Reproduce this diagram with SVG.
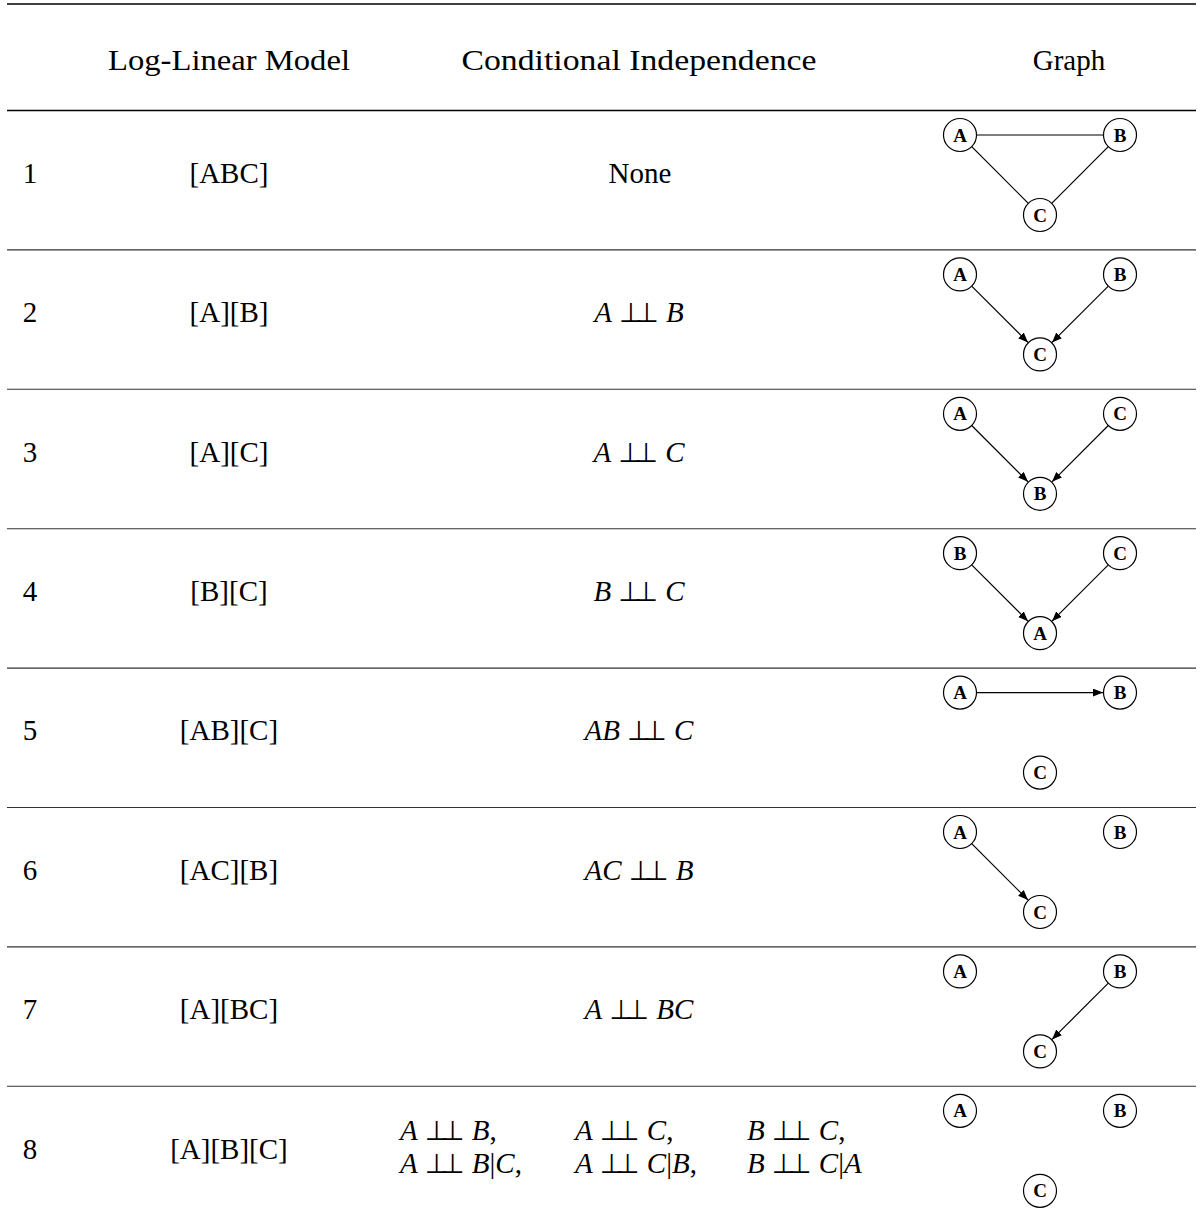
<svg xmlns="http://www.w3.org/2000/svg" width="1203" height="1220" viewBox="0 0 1203 1220">
<style>
text{font-family:"Liberation Serif","Times New Roman",serif;fill:#000}
.t{font-size:29px}
.c{text-anchor:middle}
.i{font-style:italic}
.s{font-family:"DejaVu Sans","DejaVu Serif",sans-serif;font-size:27px}
.rule{stroke:#000;stroke-width:1.3}
.sep{stroke:#333;stroke-width:1.1}
.nd circle{fill:#fff;stroke:#000;stroke-width:1.2}
.nd text{font-size:19px;font-weight:bold;text-anchor:middle}
.e{stroke:#000;stroke-width:1.2;fill:none}
.a{marker-end:url(#ah)}
</style>
<defs>
<marker id="ah" markerUnits="userSpaceOnUse" markerWidth="11" markerHeight="9" refX="10" refY="4" orient="auto">
<path d="M0,0 L10,4 L0,8 z" fill="#000"/>
</marker>
</defs>
<rect width="1203" height="1220" fill="#fff"/>
<g id="rules">
<line class="rule" x1="7" y1="4" x2="1196" y2="4"/>
<line class="rule" x1="7" y1="110.5" x2="1196" y2="110.5"/>
<line class="sep" x1="7" y1="249.9" x2="1196" y2="249.9"/>
<line class="sep" x1="7" y1="389.3" x2="1196" y2="389.3"/>
<line class="sep" x1="7" y1="528.7" x2="1196" y2="528.7"/>
<line class="sep" x1="7" y1="668.1" x2="1196" y2="668.1"/>
<line class="sep" x1="7" y1="807.5" x2="1196" y2="807.5"/>
<line class="sep" x1="7" y1="946.9" x2="1196" y2="946.9"/>
<line class="sep" x1="7" y1="1086.3" x2="1196" y2="1086.3"/>
</g>
<g id="header">
<text class="t c" x="229" y="70" textLength="242" lengthAdjust="spacingAndGlyphs">Log-Linear Model</text>
<text class="t c" x="639" y="70" textLength="355" lengthAdjust="spacingAndGlyphs">Conditional Independence</text>
<text class="t c" x="1069" y="70">Graph</text>
</g>
<g id="col-index">
<text class="t c" x="30" y="182.7">1</text>
<text class="t c" x="30" y="322.1">2</text>
<text class="t c" x="30" y="461.5">3</text>
<text class="t c" x="30" y="600.9">4</text>
<text class="t c" x="30" y="740.3">5</text>
<text class="t c" x="30" y="879.7">6</text>
<text class="t c" x="30" y="1019.1">7</text>
<text class="t c" x="30" y="1158.5">8</text>
</g>
<g id="col-model">
<text class="t c" x="229" y="182.7">[ABC]</text>
<text class="t c" x="229" y="322.1">[A][B]</text>
<text class="t c" x="229" y="461.5">[A][C]</text>
<text class="t c" x="229" y="600.9">[B][C]</text>
<text class="t c" x="229" y="740.3">[AB][C]</text>
<text class="t c" x="229" y="879.7">[AC][B]</text>
<text class="t c" x="229" y="1019.1">[A][BC]</text>
<text class="t c" x="229" y="1158.5">[A][B][C]</text>
</g>
<g id="col-ci">
<text class="t c" x="640" y="182.7">None</text>
<text class="t c" x="639" y="322.1"><tspan class="i">A</tspan> <tspan class="s">⊥<tspan dx="-7.5">⊥</tspan></tspan> <tspan class="i">B</tspan></text>
<text class="t c" x="639" y="461.5"><tspan class="i">A</tspan> <tspan class="s">⊥<tspan dx="-7.5">⊥</tspan></tspan> <tspan class="i">C</tspan></text>
<text class="t c" x="639" y="600.9"><tspan class="i">B</tspan> <tspan class="s">⊥<tspan dx="-7.5">⊥</tspan></tspan> <tspan class="i">C</tspan></text>
<text class="t c" x="639" y="740.3"><tspan class="i">AB</tspan> <tspan class="s">⊥<tspan dx="-7.5">⊥</tspan></tspan> <tspan class="i">C</tspan></text>
<text class="t c" x="639" y="879.7"><tspan class="i">AC</tspan> <tspan class="s">⊥<tspan dx="-7.5">⊥</tspan></tspan> <tspan class="i">B</tspan></text>
<text class="t c" x="639" y="1019.1"><tspan class="i">A</tspan> <tspan class="s">⊥<tspan dx="-7.5">⊥</tspan></tspan> <tspan class="i">BC</tspan></text>
<text class="t" x="400" y="1140"><tspan class="i">A</tspan> <tspan class="s">⊥<tspan dx="-7.5">⊥</tspan></tspan> <tspan class="i">B</tspan>,</text>
<text class="t" x="575" y="1140"><tspan class="i">A</tspan> <tspan class="s">⊥<tspan dx="-7.5">⊥</tspan></tspan> <tspan class="i">C</tspan>,</text>
<text class="t" x="747" y="1140"><tspan class="i">B</tspan> <tspan class="s">⊥<tspan dx="-7.5">⊥</tspan></tspan> <tspan class="i">C</tspan>,</text>
<text class="t" x="400" y="1173"><tspan class="i">A</tspan> <tspan class="s">⊥<tspan dx="-7.5">⊥</tspan></tspan> <tspan class="i">B</tspan>|<tspan class="i">C</tspan>,</text>
<text class="t" x="575" y="1173"><tspan class="i">A</tspan> <tspan class="s">⊥<tspan dx="-7.5">⊥</tspan></tspan> <tspan class="i">C</tspan>|<tspan class="i">B</tspan>,</text>
<text class="t" x="747" y="1173"><tspan class="i">B</tspan> <tspan class="s">⊥<tspan dx="-7.5">⊥</tspan></tspan> <tspan class="i">C</tspan>|<tspan class="i">A</tspan></text>
</g>
<g id="connectors">
<path class="e" d="M976.5,135 L1103.5,135"/>
<path class="e" d="M971.7,146.7 L1028.3,203.3"/>
<path class="e" d="M1108.3,146.7 L1051.7,203.3"/>
<path class="e a" d="M971.7,286.1 L1028,342.4"/>
<path class="e a" d="M1108.3,286.1 L1052,342.4"/>
<path class="e a" d="M971.7,425.5 L1028,481.8"/>
<path class="e a" d="M1108.3,425.5 L1052,481.8"/>
<path class="e a" d="M971.7,564.9 L1028,621.2"/>
<path class="e a" d="M1108.3,564.9 L1052,621.2"/>
<path class="e a" d="M976.5,692.6 L1103,692.6"/>
<path class="e a" d="M971.7,843.7 L1028,900"/>
<path class="e a" d="M1108.3,983.1 L1052,1039.4"/>
</g>
<g id="r1-A" class="nd"><circle cx="960" cy="135" r="16.5"/><text x="960" y="141.5">A</text></g>
<g id="r1-B" class="nd"><circle cx="1120" cy="135" r="16.5"/><text x="1120" y="141.5">B</text></g>
<g id="r1-C" class="nd"><circle cx="1040" cy="215" r="16.5"/><text x="1040" y="221.5">C</text></g>
<g id="r2-A" class="nd"><circle cx="960" cy="274.4" r="16.5"/><text x="960" y="280.9">A</text></g>
<g id="r2-B" class="nd"><circle cx="1120" cy="274.4" r="16.5"/><text x="1120" y="280.9">B</text></g>
<g id="r2-C" class="nd"><circle cx="1040" cy="354.4" r="16.5"/><text x="1040" y="360.9">C</text></g>
<g id="r3-A" class="nd"><circle cx="960" cy="413.8" r="16.5"/><text x="960" y="420.3">A</text></g>
<g id="r3-C" class="nd"><circle cx="1120" cy="413.8" r="16.5"/><text x="1120" y="420.3">C</text></g>
<g id="r3-B" class="nd"><circle cx="1040" cy="493.8" r="16.5"/><text x="1040" y="500.3">B</text></g>
<g id="r4-B" class="nd"><circle cx="960" cy="553.2" r="16.5"/><text x="960" y="559.7">B</text></g>
<g id="r4-C" class="nd"><circle cx="1120" cy="553.2" r="16.5"/><text x="1120" y="559.7">C</text></g>
<g id="r4-A" class="nd"><circle cx="1040" cy="633.2" r="16.5"/><text x="1040" y="639.7">A</text></g>
<g id="r5-A" class="nd"><circle cx="960" cy="692.6" r="16.5"/><text x="960" y="699.1">A</text></g>
<g id="r5-B" class="nd"><circle cx="1120" cy="692.6" r="16.5"/><text x="1120" y="699.1">B</text></g>
<g id="r5-C" class="nd"><circle cx="1040" cy="772.6" r="16.5"/><text x="1040" y="779.1">C</text></g>
<g id="r6-A" class="nd"><circle cx="960" cy="832" r="16.5"/><text x="960" y="838.5">A</text></g>
<g id="r6-B" class="nd"><circle cx="1120" cy="832" r="16.5"/><text x="1120" y="838.5">B</text></g>
<g id="r6-C" class="nd"><circle cx="1040" cy="912" r="16.5"/><text x="1040" y="918.5">C</text></g>
<g id="r7-A" class="nd"><circle cx="960" cy="971.4" r="16.5"/><text x="960" y="977.9">A</text></g>
<g id="r7-B" class="nd"><circle cx="1120" cy="971.4" r="16.5"/><text x="1120" y="977.9">B</text></g>
<g id="r7-C" class="nd"><circle cx="1040" cy="1051.4" r="16.5"/><text x="1040" y="1057.9">C</text></g>
<g id="r8-A" class="nd"><circle cx="960" cy="1110.8" r="16.5"/><text x="960" y="1117.3">A</text></g>
<g id="r8-B" class="nd"><circle cx="1120" cy="1110.8" r="16.5"/><text x="1120" y="1117.3">B</text></g>
<g id="r8-C" class="nd"><circle cx="1040" cy="1190.8" r="16.5"/><text x="1040" y="1197.3">C</text></g>
</svg>
